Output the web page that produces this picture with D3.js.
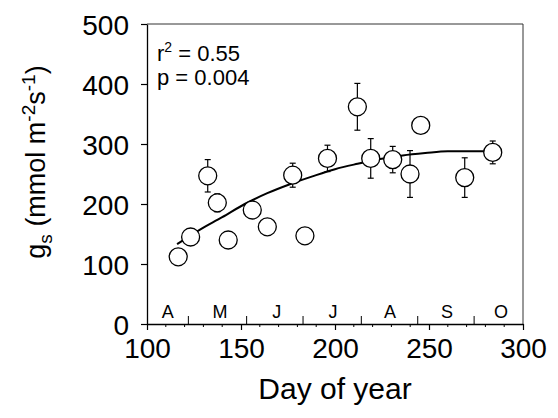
<!DOCTYPE html>
<html>
<head>
<meta charset="utf-8">
<script src="https://cdn.jsdelivr.net/npm/d3@7"></script>
<style>
  html, body { margin: 0; padding: 0; background: #fff; }
  svg { display: block; font-family: "Liberation Sans", Arial, Helvetica, sans-serif; }
</style>
</head>
<body>
<svg id="chart" width="558" height="418"></svg>
<script>
// ---- data ----
const dayOfYear = [116.6, 123.2, 132.3, 137.4, 143.2, 156, 164, 177.5, 184, 196, 211.9, 219, 230.7, 239.9, 245.6, 269, 283.9];
const gsValues  = [112, 145, 247, 202, 140, 190, 162, 248, 147, 276, 362, 276, 274, 250, 331, 244, 286];
const gsError   = [0, 0, 27, 15, 0, 0, 0, 20, 0, 22, 39, 33, 22, 39, 0, 33, 19];

const fitDays   = [116, 128, 140, 152, 164, 176, 188, 200, 212, 224, 236, 248, 260, 272, 283];
const fitValues = [133, 157, 178, 200, 218, 233, 246, 258, 267, 275, 281, 285, 288, 288, 288];

const monthLabels     = ["A", "M", "J", "J", "A", "S", "O"];
const monthLabelDays  = [111, 138.8, 169, 198.9, 229.3, 259.6, 288.3];
const monthBoundaries = [122, 153, 183, 214, 244, 274];

const xTicks = [100, 150, 200, 250, 300];
const xMinorTicks = d3.range(110, 300, 10);
const yTicks = [0, 100, 200, 300, 400, 500];

const rSquaredText = " = 0.55";
const pValueText = "p = 0.004";

// ---- layout ----
const svg = d3.select("#chart");
const mLeft = 147, mRight = 523, mTop = 24, mBottom = 324;

const x = d3.scaleLinear().domain([100, 300]).range([mLeft, mRight]);
const y = d3.scaleLinear().domain([0, 500]).range([mBottom, mTop]);

// frame
svg.append("line").attr("x1", mLeft).attr("x2", mRight).attr("y1", mTop).attr("y2", mTop)
  .attr("stroke", "#333").attr("stroke-width", 1);
svg.append("line").attr("x1", mRight).attr("x2", mRight).attr("y1", mTop).attr("y2", mBottom)
  .attr("stroke", "#333").attr("stroke-width", 1);

// y axis
const yAxis = svg.append("g").attr("transform", `translate(${mLeft},0)`)
  .call(d3.axisLeft(y).tickValues(yTicks).tickSize(6).tickPadding(12).tickSizeOuter(0));
yAxis.selectAll("text").attr("font-size", 28).attr("fill", "#000").attr("font-family", "Liberation Sans, Arial, sans-serif").attr("dy", "0.36em");
yAxis.select(".domain").attr("stroke", "#000").attr("stroke-width", 1.3);
yAxis.selectAll(".tick line").attr("stroke", "#000").attr("stroke-width", 1.2);

// x axis
const xAxis = svg.append("g").attr("transform", `translate(0,${mBottom})`)
  .call(d3.axisBottom(x).tickValues(xTicks).tickSize(6).tickPadding(8).tickSizeOuter(0));
xAxis.selectAll("text").attr("font-size", 28).attr("fill", "#000").attr("font-family", "Liberation Sans, Arial, sans-serif");
xAxis.select(".domain").attr("stroke", "#000").attr("stroke-width", 1.3);
xAxis.selectAll(".tick line").attr("stroke", "#000").attr("stroke-width", 1.2);

// minor x ticks
svg.append("g").selectAll("line").data(xMinorTicks.filter(d => xTicks.indexOf(d) < 0)).join("line")
  .attr("x1", d => x(d)).attr("x2", d => x(d)).attr("y1", mBottom).attr("y2", mBottom + 3)
  .attr("stroke", "#000").attr("stroke-width", 1);

// month boundary ticks (inward)
svg.append("g").selectAll("line").data(monthBoundaries).join("line")
  .attr("x1", d => x(d)).attr("x2", d => x(d)).attr("y1", mBottom).attr("y2", mBottom - 8)
  .attr("stroke", "#000").attr("stroke-width", 1);

// month labels
svg.append("g").selectAll("text").data(monthLabels).join("text")
  .attr("x", (d, i) => x(monthLabelDays[i])).attr("y", 318)
  .attr("text-anchor", "middle").attr("font-size", 18).attr("fill", "#000")
  .text(d => d);

// fitted curve
const line = d3.line().x(d => x(d[0])).y(d => y(d[1])).curve(d3.curveMonotoneX);
svg.append("path").datum(fitDays.map((d, i) => [d, fitValues[i]]))
  .attr("d", line).attr("fill", "none").attr("stroke", "#000").attr("stroke-width", 2);

// error bars
const pts = dayOfYear.map((d, i) => ({ d, v: gsValues[i], e: gsError[i] }));
const eb = svg.append("g").selectAll("g").data(pts.filter(p => p.e > 0)).join("g");
eb.append("line").attr("x1", p => x(p.d)).attr("x2", p => x(p.d))
  .attr("y1", p => y(p.v + p.e)).attr("y2", p => y(p.v - p.e)).attr("stroke", "#000").attr("stroke-width", 1.2);
eb.append("line").attr("x1", p => x(p.d) - 3).attr("x2", p => x(p.d) + 3)
  .attr("y1", p => y(p.v + p.e)).attr("y2", p => y(p.v + p.e)).attr("stroke", "#000").attr("stroke-width", 1.2);
eb.append("line").attr("x1", p => x(p.d) - 3).attr("x2", p => x(p.d) + 3)
  .attr("y1", p => y(p.v - p.e)).attr("y2", p => y(p.v - p.e)).attr("stroke", "#000").attr("stroke-width", 1.2);

// points
svg.append("g").selectAll("circle").data(pts).join("circle")
  .attr("cx", p => x(p.d)).attr("cy", p => y(p.v)).attr("r", 9)
  .attr("fill", "#fff").attr("stroke", "#000").attr("stroke-width", 1.3);

// stats text (single text element, two lines)
const st = svg.append("text").attr("x", 157).attr("y", 61).attr("font-size", 22).attr("fill", "#000");
st.append("tspan").text("r");
st.append("tspan").attr("font-size", 14).attr("dy", -9).text("2");
st.append("tspan").attr("dy", 9).text(rSquaredText);
st.append("tspan").attr("x", 157).attr("dy", 24).text(pValueText);

// x axis title
svg.append("text").attr("x", 335).attr("y", 399).attr("text-anchor", "middle")
  .attr("font-size", 30).attr("fill", "#000").text("Day of year");

// y axis title
const yt = svg.append("text").attr("transform", "translate(45,162) rotate(-90)")
  .attr("text-anchor", "middle").attr("font-size", 27).attr("fill", "#000");
yt.append("tspan").text("g");
yt.append("tspan").attr("font-size", 19).attr("dy", 7).text("s");
yt.append("tspan").attr("dy", -7).text(" (mmol m");
yt.append("tspan").attr("font-size", 19).attr("dy", -10).text("-2");
yt.append("tspan").attr("dy", 10).text("s");
yt.append("tspan").attr("font-size", 19).attr("dy", -10).text("-1");
yt.append("tspan").attr("dy", 10).text(")");
</script>
</body>
</html>
